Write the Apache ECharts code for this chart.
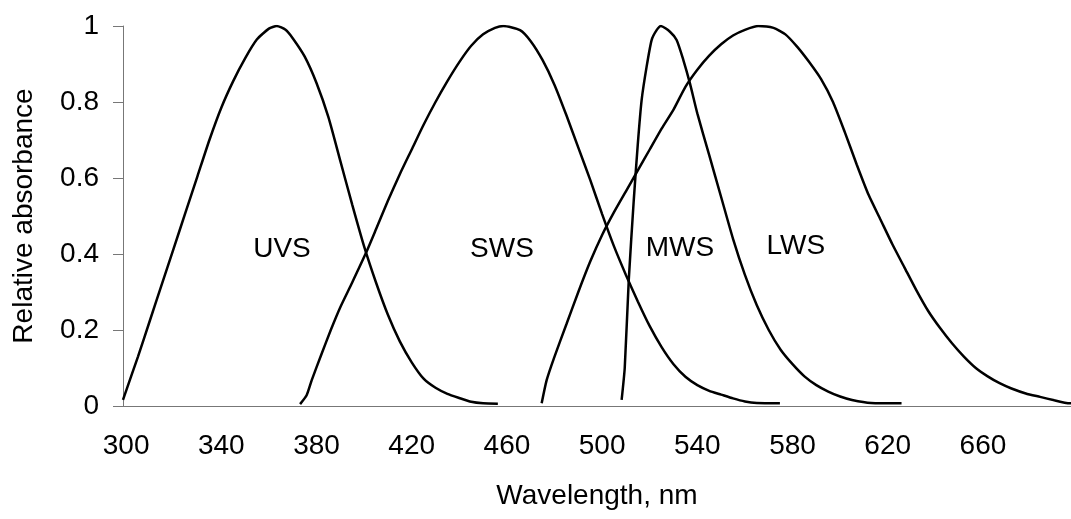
<!DOCTYPE html>
<html>
<head>
<meta charset="utf-8">
<script src="https://cdn.jsdelivr.net/npm/echarts@6/dist/echarts.min.js"></script>
<style>
  html, body { margin: 0; padding: 0; background: #fff; }
  #main { width: 1071px; height: 519px; }
</style>
</head>
<body>
<div id="main"></div>
<script>
// wavelength (nm), relative absorbance
var uvs = [
  [298.7, 0.016], [300, 0.04], [305, 0.13], [310, 0.225], [315, 0.32], [320, 0.415],
  [325, 0.51], [330, 0.605], [335, 0.7], [340, 0.785], [345, 0.855],
  [350, 0.915], [355, 0.965], [360, 0.993], [363.3, 1.0], [367, 0.99], [370, 0.968],
  [375, 0.92], [380, 0.85], [385, 0.76], [390, 0.645], [395, 0.53], [400, 0.42],
  [405, 0.325], [410, 0.24], [415, 0.17], [420, 0.115], [425, 0.072], [430, 0.048],
  [435, 0.032], [440, 0.021], [445, 0.011], [450, 0.007], [456.2, 0.006]
];
var sws = [
  [373.1, 0.005], [375.9, 0.029], [378, 0.068], [382, 0.135], [386, 0.2], [390, 0.26],
  [395, 0.325], [400.8, 0.403], [405, 0.465], [410, 0.54], [415, 0.61], [420, 0.675],
  [425, 0.74], [430, 0.8], [435, 0.855], [440, 0.905], [445, 0.948], [450, 0.978],
  [455, 0.995], [458.5, 1.0], [465.5, 0.989], [470, 0.96], [475, 0.91], [480, 0.845],
  [485, 0.765], [490, 0.68], [495, 0.595], [500, 0.505], [505, 0.42], [510, 0.345],
  [515, 0.275], [520, 0.21], [525, 0.155], [530, 0.11], [535, 0.077], [540, 0.055],
  [545, 0.04], [550, 0.03], [555, 0.02], [560, 0.012], [565, 0.008], [574.7, 0.007]
];
var mws = [
  [508.2, 0.016], [509.5, 0.1], [511.2, 0.332], [513.3, 0.542], [515, 0.69], [516.6, 0.805],
  [518.7, 0.893], [520.8, 0.963], [522.9, 0.989], [524.7, 1.0], [528.5, 0.985], [531.3, 0.963],
  [534.1, 0.911], [536.9, 0.849], [540, 0.77], [545, 0.66], [550, 0.55], [555, 0.44],
  [560, 0.345], [565, 0.265], [570, 0.2], [575, 0.148], [580, 0.11], [585, 0.078],
  [590, 0.055], [595, 0.038], [600, 0.025], [605, 0.016], [613, 0.008], [625.8, 0.007]
];
var lws = [
  [474.6, 0.007], [476.7, 0.068], [480, 0.13], [485, 0.215], [490, 0.3], [495, 0.38],
  [500, 0.45], [505, 0.51], [510, 0.565], [515, 0.62], [520, 0.675], [525, 0.73],
  [530, 0.78], [535, 0.84], [540, 0.885], [545, 0.922], [550, 0.952], [555, 0.975],
  [560, 0.99], [565.6, 1.0], [572, 0.995], [577, 0.978], [582, 0.945], [587, 0.905],
  [592, 0.86], [597, 0.8], [602, 0.72], [607, 0.635], [612, 0.555], [617, 0.49],
  [622, 0.425], [627, 0.365], [632, 0.305], [637, 0.25], [642, 0.205], [647, 0.165],
  [652, 0.13], [657, 0.1], [662, 0.078], [667, 0.06], [672, 0.046], [678, 0.033],
  [684, 0.024], [690, 0.015], [695, 0.008], [697, 0.007]
];
var curveNames = ['UVS', 'SWS', 'MWS', 'LWS'];
// where each curve name sits, in data units
var nameAnchors = [[365.5, 0.413], [457.9, 0.413], [532.7, 0.415], [581.4, 0.421]];
var xTicks = [300, 340, 380, 420, 460, 500, 540, 580, 620, 660];

var font = '"Liberation Sans", Arial, sans-serif';
var curves = [uvs, sws, mws, lws];

var series = curves.map(function (d, i) {
  return {
    name: curveNames[i],
    type: 'line',
    data: d,
    showSymbol: false,
    smooth: 0.2,
    lineStyle: { color: '#000', width: 2.5 },
    z: 2
  };
});
series.push({
  type: 'scatter',
  symbolSize: 0,
  silent: true,
  itemStyle: { opacity: 1, color: '#000' },
  data: nameAnchors.map(function (p, i) { return [p[0], p[1], curveNames[i]]; }),
  label: {
    show: true,
    position: 'inside',
    formatter: function (p) { return p.value[2]; },
    color: '#000',
    textBorderWidth: 0,
    fontSize: 28,
    fontFamily: font
  },
  z: 3
});

var myChart = echarts.init(document.getElementById('main'));
myChart.setOption({
  animation: false,
  backgroundColor: '#fff',
  grid: { left: 123, right: 0, top: 26, bottom: 113 },
  xAxis: {
    type: 'value',
    min: 298.7,
    max: 697,
    name: 'Wavelength, nm',
    nameLocation: 'middle',
    nameGap: 76,
    nameTextStyle: { color: '#000', fontSize: 28, fontFamily: font },
    axisLine: { lineStyle: { color: '#777', width: 1 } },
    axisTick: { show: false },
    splitLine: { show: false },
    axisLabel: {
      customValues: xTicks,
      margin: 26,
      color: '#000',
      fontSize: 28,
      fontFamily: font
    }
  },
  yAxis: {
    type: 'value',
    min: 0,
    max: 1,
    interval: 0.2,
    name: 'Relative absorbance',
    nameLocation: 'middle',
    nameGap: 85,
    nameTextStyle: { color: '#000', fontSize: 28, fontFamily: font },
    axisLine: { show: true, lineStyle: { color: '#777', width: 1 } },
    axisTick: { show: true, length: 10, lineStyle: { color: '#777' } },
    splitLine: { show: false },
    axisLabel: { margin: 24, color: '#000', fontSize: 28, fontFamily: font }
  },
  series: series
});
</script>
</body>
</html>
